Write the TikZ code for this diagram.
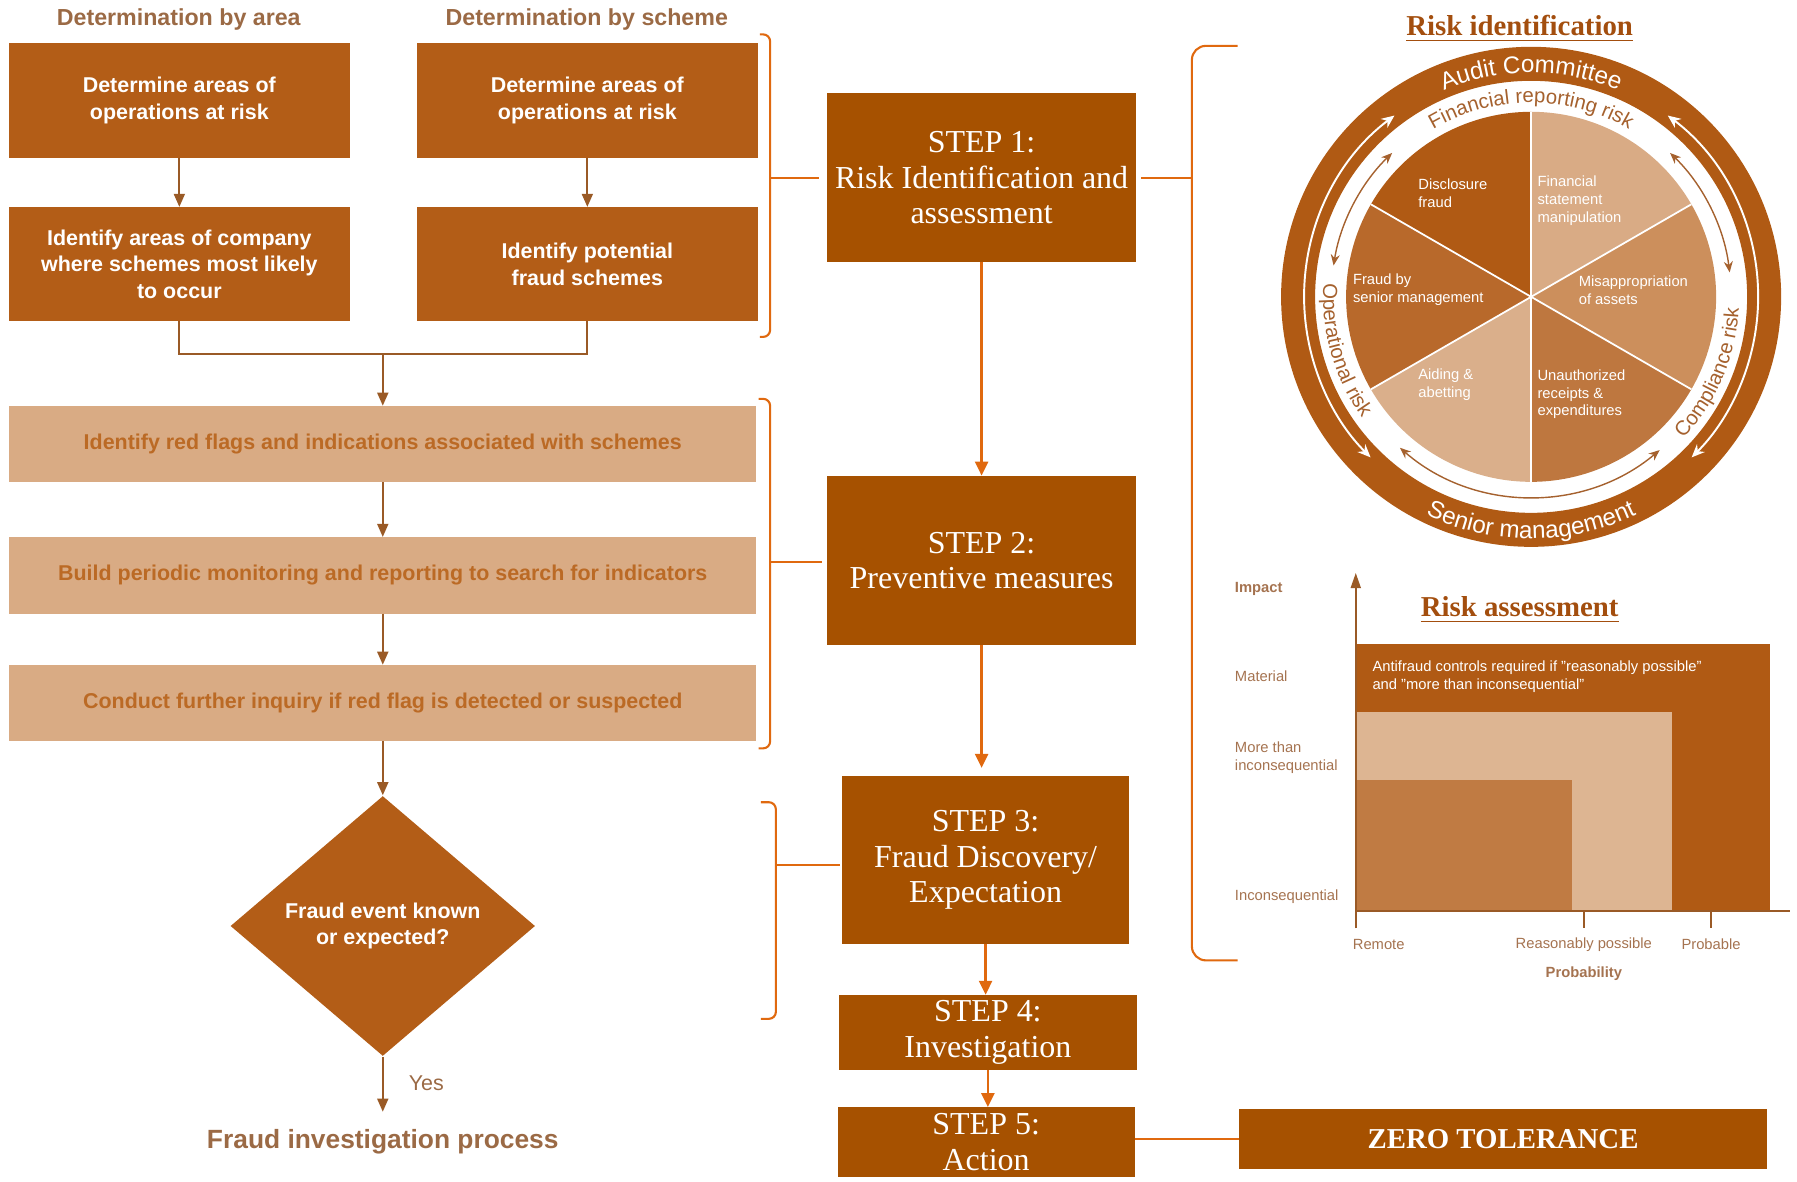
\documentclass[tikz,border=0pt]{standalone}
\usepackage{fontspec}
\setmainfont{Liberation Serif}
\setsansfont{Liberation Sans}
\usepackage{tikz}
\usetikzlibrary{positioning,arrows.meta,shapes.geometric,decorations.text}

\definecolor{stepbrown}{HTML}{A65100}
\definecolor{flowbrown}{HTML}{B35D17}
\definecolor{tanfill}{HTML}{D9AB84}
\definecolor{tantext}{HTML}{BB6A25}
\definecolor{headtext}{HTML}{9B6A45}
\definecolor{linkbrown}{HTML}{9A5A26}
\definecolor{accent}{HTML}{E0690F}
\definecolor{titlebrown}{HTML}{A34E0E}
\definecolor{lblbrown}{HTML}{A57350}
\definecolor{pieA}{HTML}{B05A14}
\definecolor{pieB}{HTML}{D9AB85}
\definecolor{pieC}{HTML}{CC8F5C}
\definecolor{pieD}{HTML}{BE773F}
\definecolor{pieE}{HTML}{B8692B}
\definecolor{pieF}{HTML}{DAAF8B}
\definecolor{chartmid}{HTML}{C07B43}
\definecolor{chartlight}{HTML}{DDB592}
\definecolor{arcbrown}{HTML}{A5612E}

\newcommand{\pxu}{0.01146cm}
\newcommand{\flowfont}{\sffamily\bfseries\fontsize{6.1}{7.6}\selectfont}
\newcommand{\stepfont}{\rmfamily\fontsize{9.1}{10.1}\selectfont}
\newcommand{\piefont}{\sffamily\fontsize{4.2}{5.1}\selectfont}
\newcommand{\chartfont}{\sffamily\fontsize{4.2}{5.1}\selectfont}
\newcommand{\ringfont}{\sffamily\fontsize{6.9}{8}\selectfont}
\newcommand{\bandfont}{\sffamily\fontsize{5.8}{7}\selectfont}
\newcommand{\titlefont}{\rmfamily\bfseries\fontsize{8.2}{10}\selectfont}

\tikzset{
  flowbox/.style={rectangle, fill=flowbrown, text=white, font=\flowfont, align=center,
    inner sep=0pt, outer sep=0pt, minimum width=297*\pxu, minimum height=100*\pxu},
  tanbox/.style={rectangle, fill=tanfill, text=tantext, font=\flowfont, align=center,
    inner sep=0pt, outer sep=0pt, minimum width=652*\pxu, minimum height=67*\pxu},
  stepbox/.style={rectangle, fill=stepbrown, text=white, font=\stepfont, align=center,
    inner sep=0pt, outer sep=0pt},
  hdr/.style={font=\sffamily\bfseries\fontsize{6.6}{8}\selectfont, text=headtext, inner sep=0pt},
  link/.style={draw=linkbrown, line width=0.5pt},
  linkarr/.style={link, -{Triangle[length=1.3mm, width=1.1mm]}},
  steparr/.style={draw=accent, line width=0.7pt, -{Triangle[length=1.4mm, width=1.3mm]}},
  brk/.style={draw=accent, line width=0.6pt},
  pielbl/.style={font=\piefont, text=white, align=left, anchor=west, inner sep=0pt},
  chartlbl/.style={font=\chartfont, text=lblbrown, align=left, inner sep=0pt},
  axisline/.style={draw=linkbrown, line width=0.5pt},
  innerarc/.style={draw=arcbrown, line width=0.4pt,
    {Stealth[length=1.1mm, width=0.9mm]}-{Stealth[length=1.1mm, width=0.9mm]}},
  outerarc/.style={draw=white, line width=0.55pt,
    {Stealth[length=1.3mm, width=1.1mm]}-{Stealth[length=1.3mm, width=1.1mm]}},
  titlelbl/.style={font=\titlefont, text=titlebrown, inner sep=0pt}
}

\begin{document}
\begin{tikzpicture}[x=0.01146cm, y=-0.01146cm]
\useasboundingbox (0,0) rectangle (1568,1031);

% left flow
\node[hdr] (hdra) at (156,17) {Determination by area};
\node[hdr] (hdrb) at (512,17) {Determination by scheme};
\node[flowbox] (a1) at (156.5,87.5) {Determine areas of\\operations at risk};
\node[flowbox] (b1) at (512.5,87.5) {Determine areas of\\operations at risk};
\node[flowbox] (a2) at (156.5,230.5) {Identify areas of company\\where schemes most likely\\to occur};
\node[flowbox] (b2) at (512.5,230.5) {Identify potential\\fraud schemes};
\draw[linkarr] (a1) -- (a2);
\draw[linkarr] (b1) -- (b2);
\coordinate (mj) at (334,309);
\draw[link] (a2.south) |- (mj) -| (b2.south);
\node[tanbox] (f1) at (334,387.5) {Identify red flags and indications associated with schemes};
\node[tanbox] (f2) at (334,502) {Build periodic monitoring and reporting to search for indicators};
\node[tanbox] (f3) at (334,613.5) {Conduct further inquiry if red flag is detected or suspected};
\draw[linkarr] (mj) -- (f1);
\draw[linkarr] (f1) -- (f2);
\draw[linkarr] (f2) -- (f3);
\node[diamond, fill=flowbrown, text=white, font=\flowfont, align=center, inner sep=0pt,
  aspect=1.17, minimum width=266*\pxu, minimum height=227*\pxu] (dq) at (334,808)
  {Fraud event known\\or expected?};
\draw[linkarr] (f3) -- (dq);
\coordinate (yesend) at (334,970);
\draw[linkarr] (dq) -- (yesend);
\node[font=\sffamily\fontsize{6.1}{7.6}\selectfont, text=headtext, inner sep=0pt] (yes) at (372,945) {Yes};
\node[hdr, font=\sffamily\bfseries\fontsize{7.5}{9}\selectfont] (fip) at (334,996) {Fraud investigation process};

% brackets
\draw[brk, rounded corners=2pt] (663,30) -- (672,30) -- (672,294) -- (663,294);
\coordinate (br1) at (672,155);
\draw[brk, rounded corners=2pt] (662,348) -- (672,348) -- (672,653) -- (662,653);
\coordinate (br2) at (672,490);
\draw[brk, rounded corners=2pt] (664,700) -- (677,700) -- (677,889) -- (664,889);
\coordinate (br3) at (677,755);

% steps
\node[stepbox, minimum width=269*\pxu, minimum height=148*\pxu] (s1) at (856.5,155) {STEP 1:\\Risk Identification and\\assessment};
\node[stepbox, minimum width=269*\pxu, minimum height=148*\pxu] (s2) at (856.5,489) {STEP 2:\\Preventive measures};
\node[stepbox, minimum width=250*\pxu, minimum height=147*\pxu] (s3) at (860,750.5) {STEP 3:\\Fraud Discovery/\\Expectation};
\node[stepbox, minimum width=260*\pxu, minimum height=66*\pxu] (s4) at (862,901) {STEP 4:\\Investigation};
\node[stepbox, minimum width=259*\pxu, minimum height=61*\pxu] (s5) at (860.5,996.5) {STEP 5:\\Action};
\node[stepbox, font=\rmfamily\bfseries\fontsize{8.2}{10}\selectfont, minimum width=461*\pxu, minimum height=52*\pxu] (zt) at (1311.5,994) {ZERO TOLERANCE};
\draw[brk, shorten >=7*\pxu] (br1) -- (br1 -| s1.west);
\draw[brk, shorten >=5*\pxu] (br2) -- (br2 -| s2.west);
\draw[brk, shorten >=2*\pxu] (br3) -- (br3 -| s3.west);
\draw[steparr] (s1) -- (s2);
\draw[steparr, shorten >=7*\pxu] (s2.south) -- (s2.south |- s3.north);
\draw[steparr] (s3.south) -- (s3.south |- s4.north);
\draw[steparr] (s4.south) -- (s4.south |- s5.north);
\draw[brk] (s5.east |- zt.west) -- (zt.west);

% right bracket
\draw[brk, rounded corners=4pt] (1080,40) -- (1040,40) -- (1040,838) -- (1080,838);
\coordinate (br4) at (1040,155);
\draw[brk, shorten <=5*\pxu] (s1.east) -- (br4);

% risk identification wheel
\node[titlelbl] (ridt) at (1326,25) {\underline{Risk identification}};
\begin{scope}[shift={(1336,259)}, x=1cm, y=1cm]
  \fill[pieA, even odd rule] (0,0) circle[radius=2.50] (0,0) circle[radius=2.16];
  \foreach \a/\b/\c in {90/150/pieA, 30/90/pieB, -30/30/pieC, -90/-30/pieD, 210/270/pieF, 150/210/pieE}
    \fill[\c] (0,0) -- (\a:1.85) arc[start angle=\a, end angle=\b, radius=1.85] -- cycle;
  \foreach \a in {30,90,...,330}
    \draw[white, line width=0.5pt] (0,0) -- (\a:1.85);
  \draw[outerarc] (127:2.27) arc[start angle=127, end angle=225, radius=2.27];
  \draw[outerarc] (53:2.27) arc[start angle=53, end angle=-45, radius=2.27];
  \draw[innerarc] (134:2.0) arc[start angle=134, end angle=171, radius=2.0];
  \draw[innerarc] (46:2.0) arc[start angle=46, end angle=7, radius=2.0];
  \draw[innerarc] (229:2.0) arc[start angle=229, end angle=310, radius=2.0];
  \path[decorate, decoration={text along path, text={|\ringfont|Audit Committee},
    text align=center, text color=white}] (140:2.24) arc[start angle=140, end angle=40, radius=2.24];
  \path[decorate, decoration={text along path, text={|\ringfont|Senior management},
    text align=center, text color=white}] (230:2.42) arc[start angle=230, end angle=310, radius=2.42];
  \path[decorate, decoration={text along path, text={|\bandfont|Financial reporting risk},
    text align=center, text color=arcbrown}] (140:1.94) arc[start angle=140, end angle=40, radius=1.94];
  \path[decorate, decoration={text along path, text={|\bandfont|Operational risk},
    text align=center, text color=arcbrown}] (156:2.08) arc[start angle=156, end angle=236, radius=2.08];
  \path[decorate, decoration={text along path, text={|\bandfont|Compliance risk},
    text align=center, text color=arcbrown}] (-63:2.08) arc[start angle=-63, end angle=17, radius=2.08];
\end{scope}
\node[pielbl] (pdis) at (1237,168.5) {Disclosure\\fraud};
\node[pielbl] (pfin) at (1341,175) {Financial\\statement\\manipulation};
\node[pielbl] (psen) at (1180,253) {Fraud by\\senior management};
\node[pielbl] (pmis) at (1377,253) {Misappropriation\\of assets};
\node[pielbl] (paid) at (1237,336) {Aiding \&\\abetting};
\node[pielbl] (puna) at (1341,344) {Unauthorized\\receipts \&\\expenditures};

% risk assessment chart
\fill[pieA] (1183,562) rectangle (1544,795);
\fill[chartlight] (1183,621) rectangle (1459,795);
\fill[chartmid] (1183,681) rectangle (1372,795);
\draw[axisline] (1183,795) -- (1562,795);
\draw[axisline, -{Triangle[length=1.5mm, width=1mm]}] (1183,810) -- (1183,500);
\draw[axisline] (1382,795) -- (1382,810);
\draw[axisline] (1493,795) -- (1493,810);
\node[titlelbl] (rast) at (1326,532) {\underline{Risk assessment}};
\node[chartlbl, text=white, anchor=west] (anti) at (1197,590.5)
  {Antifraud controls required if "reasonably possible"\\and "more than inconsequential"};
\node[chartlbl, anchor=west, font=\sffamily\bfseries\fontsize{4.2}{5.1}\selectfont] (imp) at (1077,514) {Impact};
\node[chartlbl, anchor=west] (mat) at (1077,590) {Material};
\node[chartlbl, anchor=west] (mti) at (1077,661) {More than\\inconsequential};
\node[chartlbl, anchor=west] (inc) at (1077,782) {Inconsequential};
\node[chartlbl] (rem) at (1203,824) {Remote};
\node[chartlbl] (rps) at (1382,824) {Reasonably possible};
\node[chartlbl] (prb) at (1493,824) {Probable};
\node[chartlbl, font=\sffamily\bfseries\fontsize{4.2}{5.1}\selectfont] (prob) at (1382,850) {Probability};
\end{tikzpicture}
\end{document}
